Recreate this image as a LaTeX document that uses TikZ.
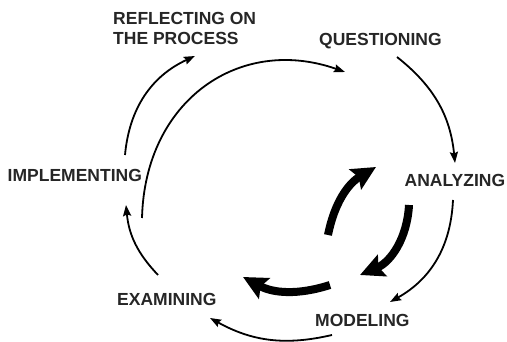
\documentclass[tikz,border=0pt]{standalone}
\usepackage{fontspec}
\setmainfont{Liberation Sans}
\usetikzlibrary{arrows.meta}

\begin{document}
\begin{tikzpicture}[
        x=1pt, y=1pt,
        font=\fontsize{17.5}{20}\selectfont\bfseries,
        stage/.style={inner sep=0pt, anchor=base west, text=black!85},
        thin arrow/.style={-{Stealth[length=11pt, width=8pt, inset=1.5pt]}, line width=1.8pt},
        fat arrow/.style={-{Stealth[length=24pt, width=23pt, inset=4pt]}, line width=8pt}
    ]
        \useasboundingbox (0,0) rectangle (507,342);

        % stages of the cycle
        \node[stage, anchor=north west, align=left] (refl) at (113,329.7) {REFLECTING ON\\THE PROCESS};
        \node[stage] (quest) at (319,296) {QUESTIONING};
        \node[stage] (anal) at (404.5,155) {ANALYZING};
        \node[stage] (model) at (315,15) {MODELING};
        \node[stage] (exam) at (117,36) {EXAMINING};
        \node[stage] (impl) at (7.5,160.3) {IMPLEMENTING};

        % ends of the outer arrows
        \coordinate (i1) at (125,187);  \coordinate (r1) at (195,286);
        \coordinate (i2) at (142,124);  \coordinate (q2) at (345,270);
        \coordinate (q3) at (397,285);  \coordinate (a3) at (455,179);
        \coordinate (a4) at (453,142);  \coordinate (m4) at (390,40);
        \coordinate (m5) at (332,7);    \coordinate (e5) at (210,24);
        \coordinate (e6) at (158,67);   \coordinate (i6) at (126,137);

        \draw[thin arrow] (i1) to[bend left=30] (r1);
        \draw[thin arrow] (i2) .. controls (145,242) and (240,307) .. (q2);
        \draw[thin arrow] (q3) to[bend left=23] (a3);
        \draw[thin arrow] (a4) to[bend left=29] (m4);
        \draw[thin arrow] (m5) to[bend left=21] (e5);
        \draw[thin arrow] (e6) to[bend left=19] (i6);

        % inner loop
        \coordinate (c1) at (328,107);  \coordinate (c2) at (376,175);
        \coordinate (c3) at (409,137);  \coordinate (c4) at (360,67);
        \coordinate (c5) at (330,57);   \coordinate (c6) at (243,65);

        \draw[fat arrow] (c1) to[bend left=24] (c2);
        \draw[fat arrow] (c3) to[bend left=32] (c4);
        \draw[fat arrow] (c5) to[bend left=23] (c6);
    \end{tikzpicture}
\end{document}
